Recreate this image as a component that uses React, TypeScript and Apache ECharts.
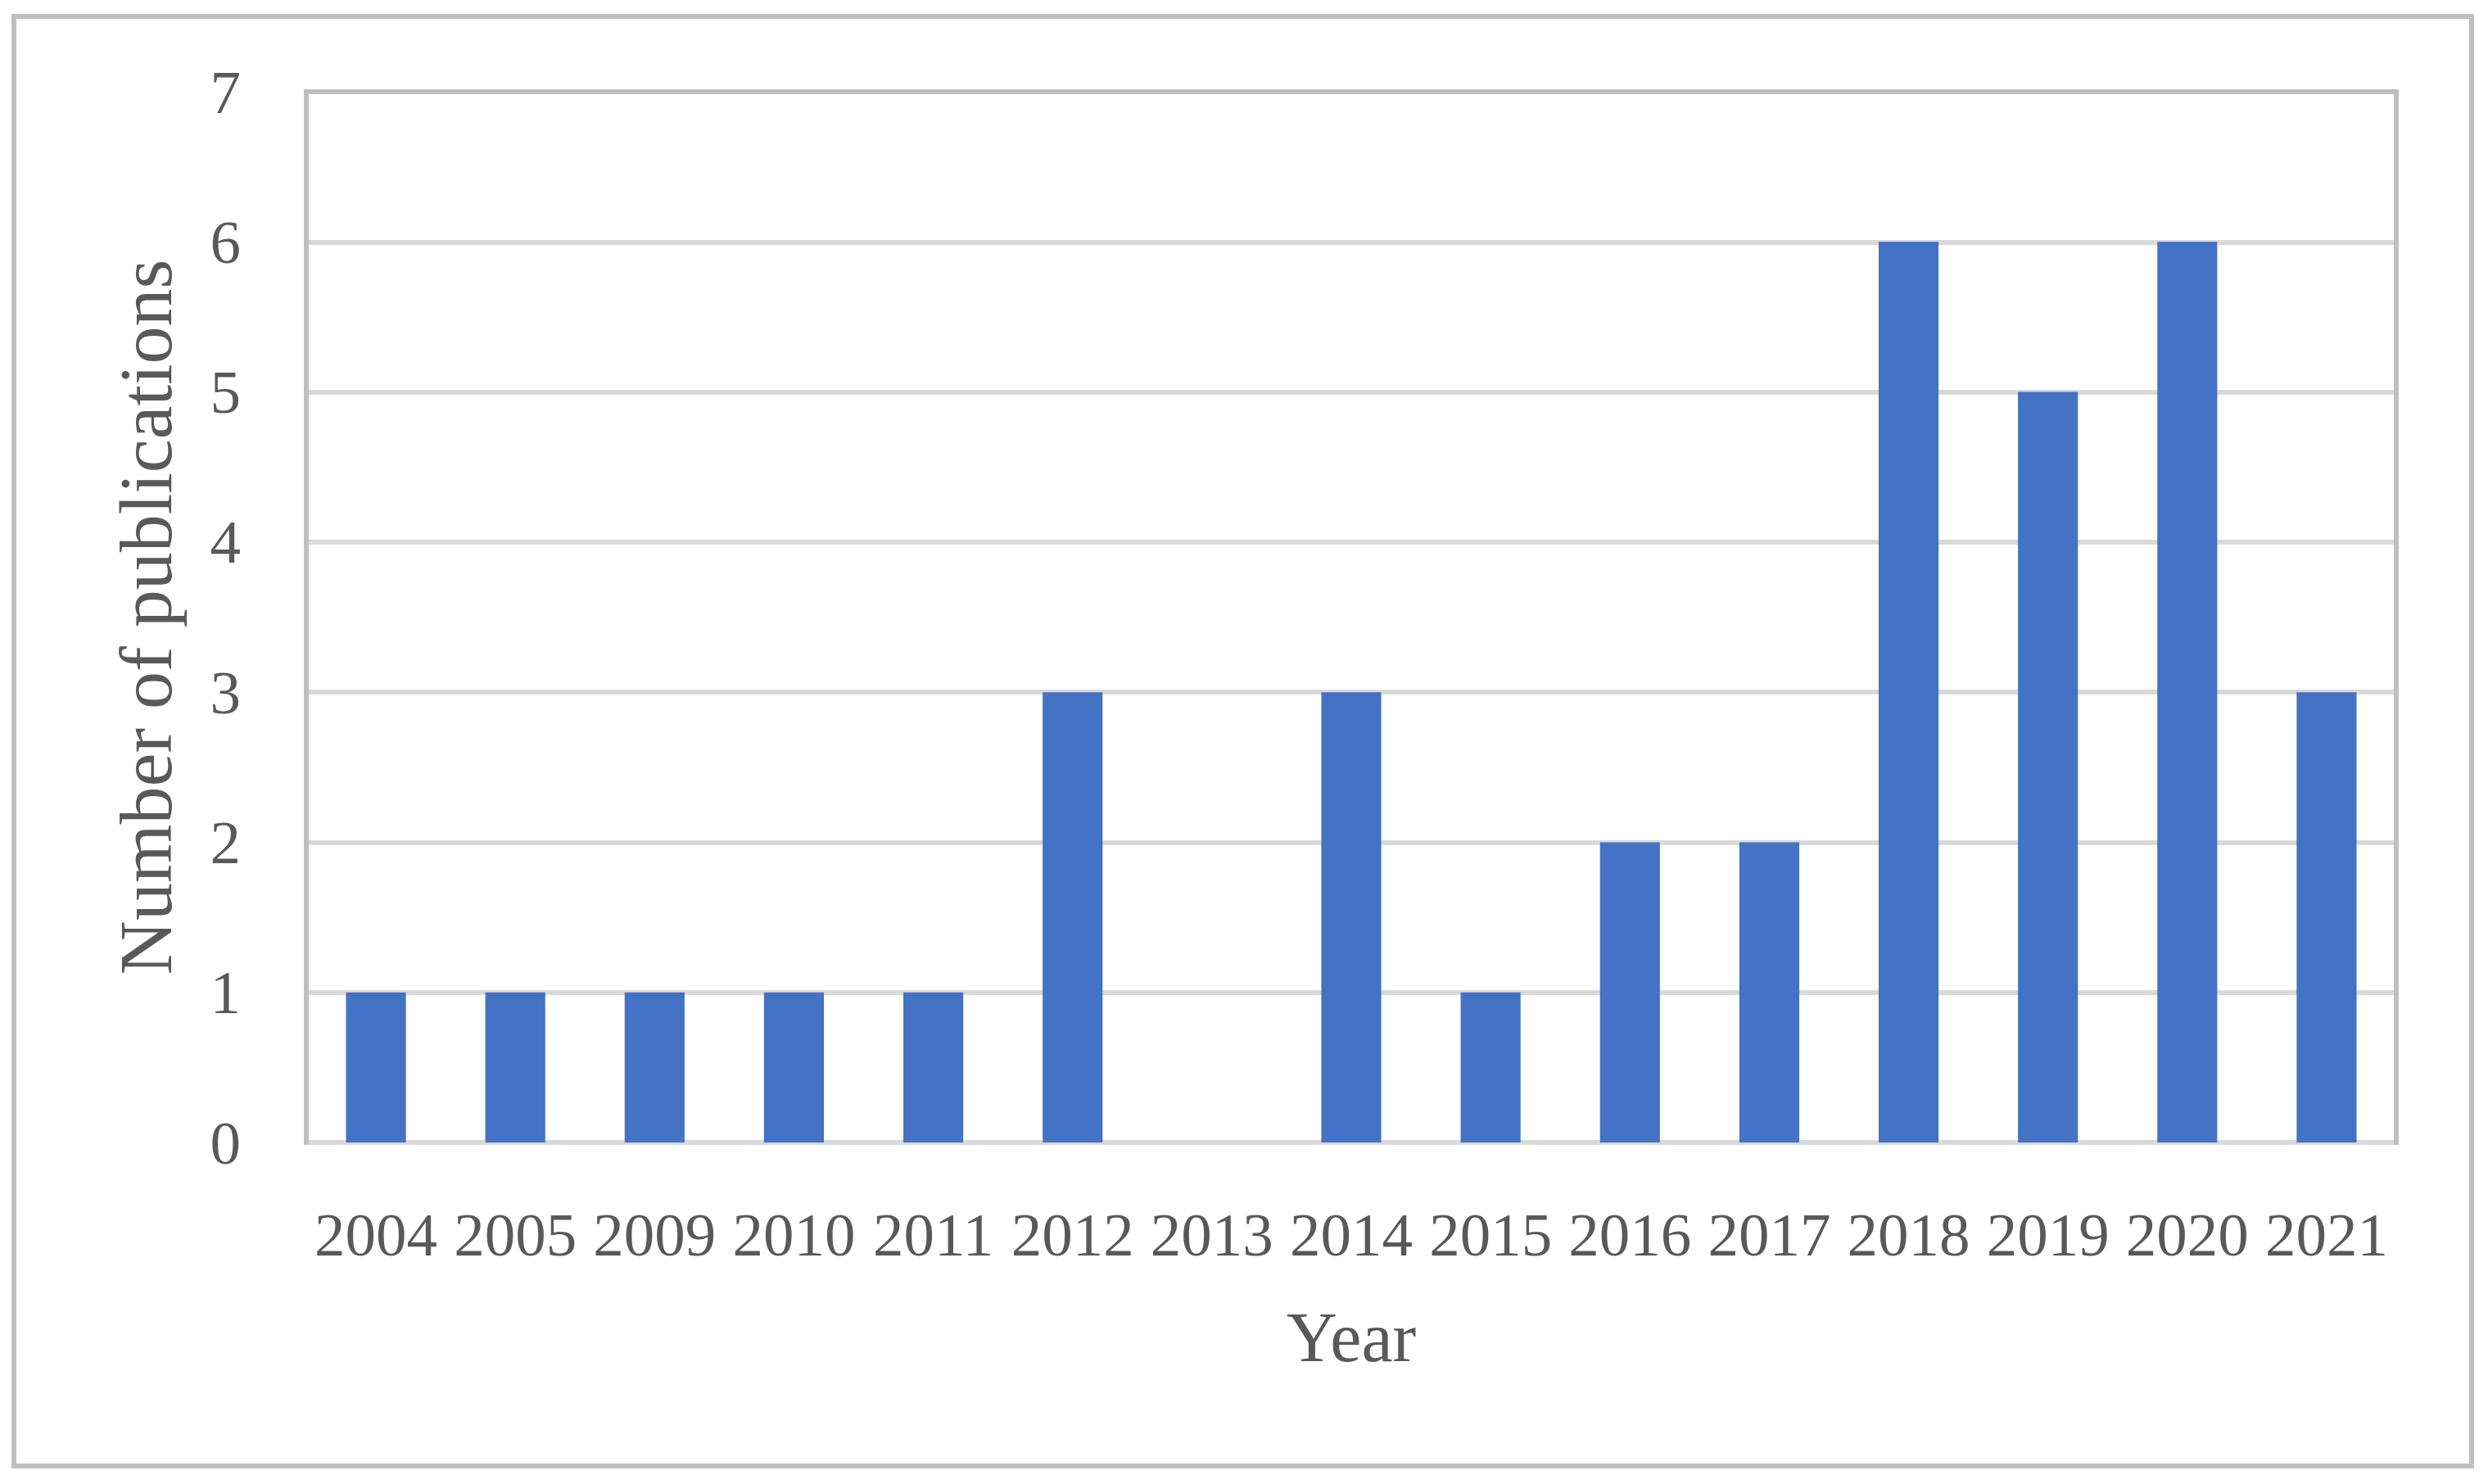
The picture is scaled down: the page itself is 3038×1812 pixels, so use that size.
import React, { useEffect, useRef } from "react";
import * as echarts from "echarts";

const years = ["2004", "2005", "2009", "2010", "2011", "2012", "2013", "2014", "2015", "2016", "2017", "2018", "2019", "2020", "2021"];
const publications = [1, 1, 1, 1, 1, 3, 0, 3, 1, 2, 2, 6, 5, 6, 3];
const yMin = 0;
const yMax = 7;
const yStep = 1;
const xName = "Year";
const yName = "Number of publications";

const FONT = "'Liberation Serif', 'Times New Roman', serif";
const TEXT = "#595959";

export default function App() {
  const ref = useRef<HTMLDivElement>(null);
  useEffect(() => {
    if (!ref.current) return;
    const chart = echarts.init(ref.current, null, { renderer: "svg" });
    const W = 3038;
    const H = 1812;
    const gl = 374, gt = 112, gr = 2926, gb = 1395;
    chart.setOption({
      animation: false,
      backgroundColor: "#ffffff",
      grid: { left: gl, top: gt, right: W - gr, bottom: H - gb, containLabel: false },
      xAxis: {
        type: "category",
        data: years,
        name: xName,
        nameLocation: "middle",
        nameGap: 195,
        nameTextStyle: { fontFamily: FONT, fontSize: 86, color: TEXT },
        axisLine: { show: true, lineStyle: { color: "#D9D9D9", width: 6 } },
        axisTick: { show: false },
        axisLabel: { fontFamily: FONT, fontSize: 75, color: TEXT, margin: 75, interval: 0 },
        splitLine: { show: false },
      },
      yAxis: {
        type: "value",
        min: yMin,
        max: yMax,
        interval: yStep,
        name: yName,
        nameLocation: "middle",
        nameGap: 150,
        nameTextStyle: { fontFamily: FONT, fontSize: 92, color: TEXT },
        axisLine: { show: false },
        axisTick: { show: false },
        axisLabel: { fontFamily: FONT, fontSize: 75, color: TEXT, margin: 80 },
        splitLine: { show: true, lineStyle: { color: "#D9D9D9", width: 6 } },
      },
      series: [
        {
          type: "bar",
          data: publications,
          barCategoryGap: "57%",
          itemStyle: { color: "#4472C4" },
          z: 2,
        },
      ],
      graphic: [
        {
          type: "polyline",
          z: 100,
          shape: { points: [[gl, gb + 3], [gl, gt], [gr, gt], [gr, gb + 3]] },
          style: { stroke: "#BFBFBF", lineWidth: 6, fill: "none" },
        },
        {
          type: "rect",
          z: 100,
          shape: { x: 17, y: 20, width: 3001, height: 1770 },
          style: { stroke: "#BFBFBF", lineWidth: 6, fill: "none" },
        },
      ],
    });
    return () => chart.dispose();
  }, []);
  return (
    <div
      ref={ref}
      style={{ position: "fixed", left: 0, top: 0, width: 3038, height: 1812, background: "#fff" }}
    />
  );
}
